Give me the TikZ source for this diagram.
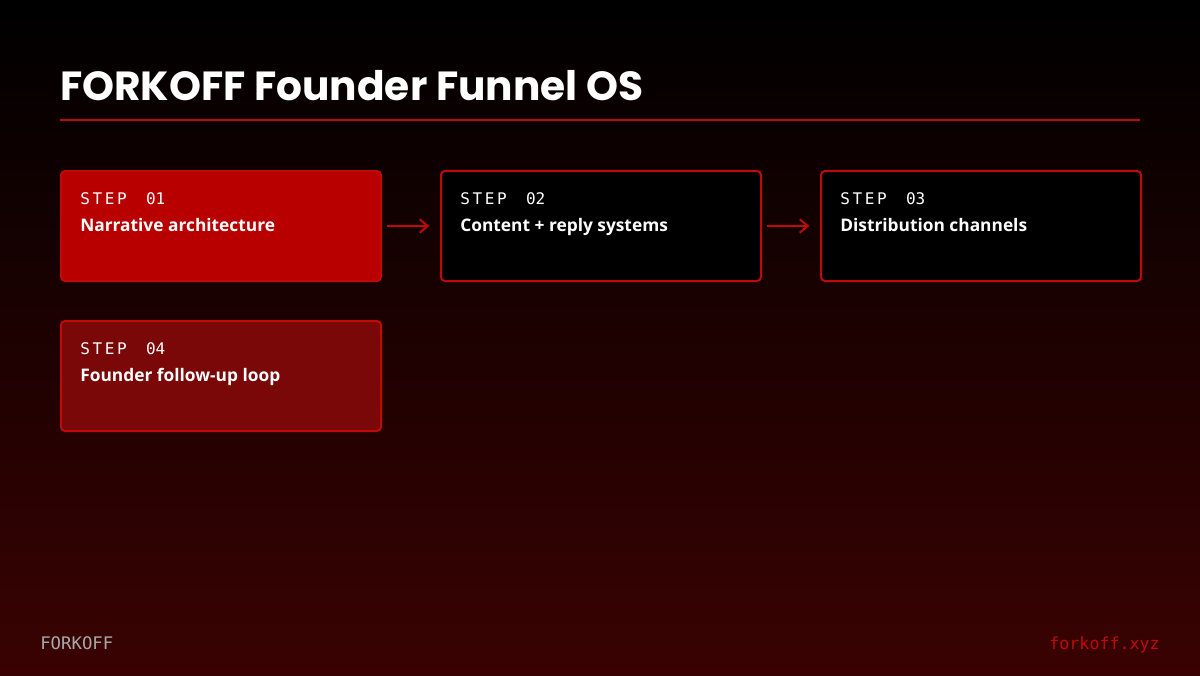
\documentclass[tikz,border=0pt]{standalone}
\usepackage{fontspec}
\usetikzlibrary{arrows.meta}
\setmainfont{Open Sans}
\newfontfamily\titlefont{Poppins}
\newfontfamily\monofont{DejaVu Sans Mono}
\definecolor{fkred}{HTML}{C00A0A}
\definecolor{fkfill}{HTML}{B80000}
\definecolor{fkdark}{HTML}{7A0808}
\definecolor{fkbottom}{HTML}{3A0202}
\definecolor{fkgrey}{HTML}{A8A8A8}
\begin{document}
\begin{tikzpicture}[x=0.75pt,y=-0.75pt,
  box/.style={draw=fkred,line width=1.5pt,rounded corners=3pt,minimum width=240pt,minimum height=82.5pt,anchor=north west,inner sep=0pt},
  steplbl/.style={anchor=base west,text=white,font=\monofont\fontsize{12}{14}\selectfont,inner sep=0pt},
  lbl/.style={anchor=base west,text=white,font=\bfseries\fontsize{13}{15}\selectfont,inner sep=0pt},
  arr/.style={draw=fkred,line width=1.5pt,-{Straight Barb[length=6pt,width=10pt]}}]
\shade[top color=black,bottom color=fkbottom] (0,0) rectangle (1200,675);
\useasboundingbox (0,0) rectangle (1200,675);
\node[anchor=base west,text=white,font=\titlefont\bfseries\fontsize{30.5}{36}\selectfont,inner sep=0pt] (title) at (60,100) {FORKOFF Founder Funnel OS};
\coordinate (l1) at (60,120); \coordinate (l2) at (1140,120);
\draw[fkred,line width=2.2pt] (l1) -- (l2);
\node[box,fill=fkfill] (b1) at (60,170) {};
\node[box,fill=black] (b2) at (440,170) {};
\node[box,fill=black] (b3) at (820,170) {};
\node[box,fill=fkdark] (b4) at (60,320) {};
\foreach \b/\n/\t in {b1/01/Narrative architecture,b2/02/Content + reply systems,b3/03/Distribution channels,b4/04/Founder follow-up loop}{
  \node[steplbl] at ([xshift=15pt,yshift=-26pt]\b.north west) {S\,T\,E\,P\ \ \n};
  \node[lbl] at ([xshift=15pt,yshift=-46pt]\b.north west) {\t};
}
\draw[arr] ([xshift=3.75pt,yshift=0pt]b1.east) -- ([xshift=-8pt,yshift=0pt]b2.west);
\draw[arr] ([xshift=3.75pt,yshift=0pt]b2.east) -- ([xshift=-8pt,yshift=0pt]b3.west);
\node[anchor=base west,text=fkgrey,font=\monofont\fontsize{13}{15}\selectfont,inner sep=0pt] (f1) at (40,649) {FORKOFF};
\node[anchor=base east,text=fkred,font=\monofont\fontsize{12.5}{15}\selectfont,inner sep=0pt] (f2) at (1160,649) {forkoff.xyz};
\end{tikzpicture}
\end{document}
